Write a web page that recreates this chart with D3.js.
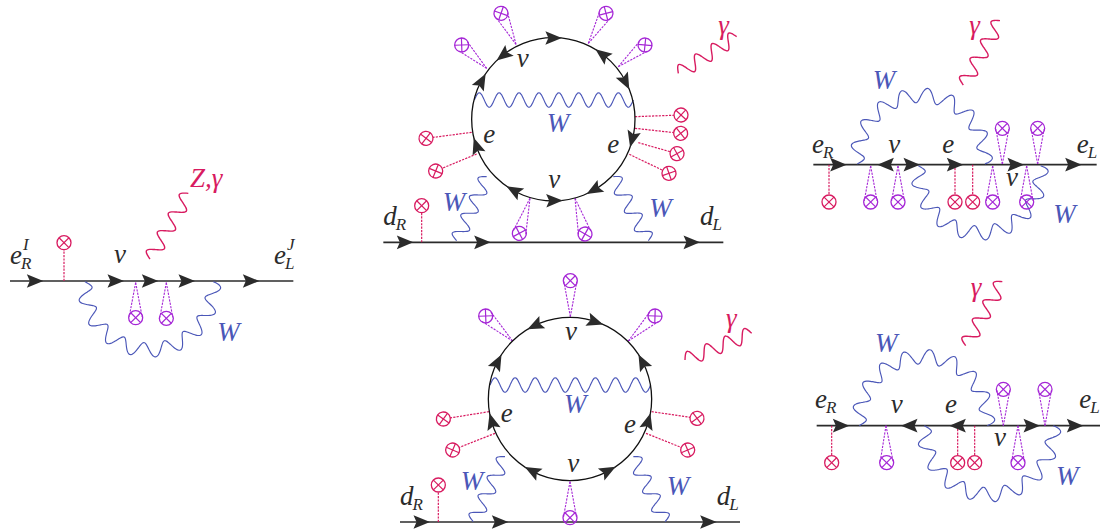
<!DOCTYPE html>
<html><head><meta charset="utf-8">
<style>html,body{margin:0;padding:0;background:#fff}svg{display:block}text{font-family:"Liberation Serif","Times New Roman",serif;font-style:italic}</style>
<script src="https://cdn.jsdelivr.net/npm/d3@7/dist/d3.min.js"></script>
</head><body><svg id="c" width="1100" height="532"></svg>
<script>
const PINK="#d81b60",PURPLE="#a526d6",BLUE="#4b57b8",INK="#2b2b2b";
const aFrame=[0,150],bFrame=[370,0],cFrame=[390,265],dFrame=[800,0],eFrame=[800,265];

// wave rows: x0,y0,x1,y1,sagitta,waves,first-swing sign
const aLine=[[30,880,393]];
const aTips=[[130,1],[372,1],[475,1],[585,1],[778,1]];
const aPink=[[192,278,192,393]];
const aPurple=[[407,503,407,398],[499,505,499,398]];
const aW=[[255,395,640,395,205,9,-1]];
const aPhoton=[[450,327,565,130,0,3.5,-1]];
const aLabels=[["e","R","I",30,342,INK],["ν","","",342,340,INK],["e","L","J",822,342,INK],["W","","",652,572,BLUE],["Z,γ","","",570,110,PINK]];

const bLine=[[40,1060,727]];
const bTips=[[130,1],[362,1],[990,1]];
const bCircle=[550,358,245];
const bArcTips=[[6,1],[31,-1],[68.5,1],[-44,-1],[-56,1],[257,1],[110,1],[215,1],[173.4,-1],[156,1]];
const bPink=[[168,415,305,397],[197,513,320,462],[933,345,795,350],[932,400,795,385],[921,461,805,428],[897,520,778,463],[155,617,155,727]];
const bPurple=[[393,40,438,133],[708,40,655,130],[825,135,745,200],[275,135,350,205],[448,700,480,595],[645,702,615,595]];
const bW=[[313,300,790,300,0,8,-1],[260,722,350,530,0,3.5,-1],[835,722,730,530,0,3.5,1]];
const bPhoton=[[925,220,1100,110,0,3.5,-1]];
const bLabels=[["ν","","",440,200,INK],["W","","",530,395,BLUE],["e","","",340,430,INK],["e","","",712,458,INK],["ν","","",535,563,INK],["W","","",218,632,BLUE],["W","","",838,650,BLUE],["d","R","",40,675,INK],["d","L","",990,675,INK],["γ","","",1045,102,PINK]];

const cLine=[[30,1050,771]];
const cTips=[[120,1],[355,1],[980,1]];
const cCircle=[540,402,245];
const cArcTips=[[-31.4,-1],[24,1],[-57,1],[57,-1],[260,1],[100,-1],[213.6,1],[146,-1]];
const cPink=[[160,462,297,440],[188,555,315,505],[921,460,785,440],[893,555,768,505],[145,660,145,771]];
const cPurple=[[541,47,541,155],[287,153,368,228],[795,153,715,228],[540,758,540,650]];
const cW=[[300,360,782,360,0,8,-1],[250,770,345,575,0,3.5,-1],[825,770,730,575,0,3.5,1]];
const cPhoton=[[885,285,1085,205,0,3.5,-1]];
const cLabels=[["ν","","",525,225,INK],["W","","",522,445,BLUE],["e","","",332,472,INK],["e","","",702,503,INK],["ν","","",532,620,INK],["W","","",212,675,BLUE],["W","","",830,690,BLUE],["d","R","",30,720,INK],["d","L","",980,720,INK],["γ","","",1008,185,PINK]];

const dLine=[[40,890,494]];
const dTips=[[140,1],[232,-1],[360,1],[490,1],[672,1],[845,1]];
const dPink=[[87,606,87,494],[465,606,465,494],[518,606,518,494]];
const dPurple=[[212,606,212,498],[294,606,294,498],[578,606,578,498],[680,606,680,498],[607,385,607,492],[713,385,713,492]];
const dW=[[172,492,555,492,-206,9,1],[355,497,722,497,202,9,-1]];
const dPhoton=[[490,255,600,62,0,3.5,-1]];
const dLabels=[["W","","",218,268,BLUE],["ν","","",265,458,INK],["e","","",427,458,INK],["ν","","",618,558,INK],["W","","",760,668,BLUE],["e","R","",36,458,INK],["e","L","",830,458,INK],["γ","","",508,102,PINK]];

const eLine=[[50,900,482]];
const eTips=[[148,1],[303,-1],[448,-1],[720,1],[850,1]];
const ePink=[[95,593,95,482],[473,593,473,482],[524,593,524,482]];
const ePurple=[[260,593,258,482],[654,593,654,482],[610,373,610,482],[735,373,735,482]];
const eW=[[178,482,562,482,-207,9,1],[373,482,760,482,207,9,-1]];
const ePhoton=[[497,242,607,50,0,3.5,-1]];
const eLabels=[["W","","",225,260,BLUE],["ν","","",272,445,INK],["e","","",435,445,INK],["ν","","",582,543,INK],["W","","",768,660,BLUE],["e","R","",45,430,INK],["e","L","",838,430,INK],["γ","","",512,92,PINK]];

const panels=[
 {frame:aFrame,line:aLine,tips:aTips,pink:aPink,purple:aPurple,waves:aW,photon:aPhoton,labels:aLabels},
 {frame:bFrame,line:bLine,tips:bTips,circle:bCircle,arc:bArcTips,pink:bPink,purple:bPurple,waves:bW,photon:bPhoton,labels:bLabels},
 {frame:cFrame,line:cLine,tips:cTips,circle:cCircle,arc:cArcTips,pink:cPink,purple:cPurple,waves:cW,photon:cPhoton,labels:cLabels},
 {frame:dFrame,line:dLine,tips:dTips,pink:dPink,purple:dPurple,waves:dW,photon:dPhoton,labels:dLabels},
 {frame:eFrame,line:eLine,tips:eTips,pink:ePink,purple:ePurple,waves:eW,photon:ePhoton,labels:eLabels}
];

const svg=d3.select("#c");
const curve=d3.line().curve(d3.curveCatmullRom.alpha(.5));
const arrowShape=d3.line()([[0,0],[-16.5,-6.8],[-13.5,0],[-16.5,6.8]])+"Z";

function wavePts(s,x,y){
  const [x0,y0,x1,y1,sag,n,sign]=s;
  const A=[x(x0),y(y0)],B=[x(x1),y(y1)];
  const chord=Math.hypot(B[0]-A[0],B[1]-A[1]);
  const ux=(B[0]-A[0])/chord,uy=(B[1]-A[1])/chord;
  const S=y(sag)-y(0);
  const amp=7.2*sign;
  const pts=[];
  const N=Math.round(n*24);
  let R=0,theta=0;
  if(Math.abs(S)>.01){R=(chord*chord/4+S*S)/(2*Math.abs(S));theta=2*Math.asin(Math.min(1,chord/(2*R)));if(Math.abs(S)>R)theta=2*Math.PI-theta;}
  for(let i=0;i<=N;i++){
    const t=i/N;
    let bx,by,tx,ty;
    if(R){
      const a=-theta/2+theta*t;
      const along=R*Math.sin(a), off=(R*Math.cos(a)-R*Math.cos(theta/2))*(S>0?1:-1);
      bx=A[0]+chord/2+along; by=A[1]+off;
      tx=Math.cos(a); ty=-Math.sin(a)*(S>0?1:-1);
    }else{bx=A[0]+ux*chord*t;by=A[1]+uy*chord*t;tx=ux;ty=uy;}
    const w=amp*Math.sin(2*Math.PI*n*t);
    pts.push([bx-ty*w,by+tx*w]);
  }
  return pts;
}

function blob(g,c,color,double,x,y){
  const [cx,cy,ax,ay]=c;
  const C=[x(cx),y(cy)],P=[x(ax),y(ay)];
  const r=7;
  const ang=Math.atan2(C[1]-P[1],C[0]-P[0]);
  const dash="2.2 1.2";
  const nx=-Math.sin(ang),ny=Math.cos(ang);
  if(double){
    [-1,1].forEach(k=>g.append("line").attr("x1",P[0]).attr("y1",P[1])
      .attr("x2",C[0]+k*nx*r*.92-Math.cos(ang)*1).attr("y2",C[1]+k*ny*r*.92-Math.sin(ang)*1)
      .attr("stroke",color).attr("stroke-width",1.1).attr("stroke-dasharray",dash));
  }else{
    g.append("line").attr("x1",P[0]).attr("y1",P[1]).attr("x2",C[0]-Math.cos(ang)*r).attr("y2",C[1]-Math.sin(ang)*r)
      .attr("stroke",color).attr("stroke-width",1.2).attr("stroke-dasharray",dash);
  }
  const o=g.append("g").attr("transform",`translate(${C[0]},${C[1]}) rotate(${ang*180/Math.PI+45})`);
  o.append("circle").attr("r",r).attr("fill","none").attr("stroke",color).attr("stroke-width",1.3);
  [[-r,0,r,0],[0,-r,0,r]].forEach(l=>o.append("line").attr("x1",l[0]).attr("y1",l[1]).attr("x2",l[2]).attr("y2",l[3]).attr("stroke",color).attr("stroke-width",1.2));
}

panels.forEach(p=>{
  const x=d3.scaleLinear().domain([0,3]).range([p.frame[0],p.frame[0]+1]);
  const y=d3.scaleLinear().domain([0,3]).range([p.frame[1],p.frame[1]+1]);
  const g=svg.append("g");
  p.line.forEach(l=>g.append("line").attr("x1",x(l[0])).attr("x2",x(l[1])).attr("y1",y(l[2])).attr("y2",y(l[2])).attr("stroke",INK).attr("stroke-width",1.6));
  p.waves.forEach(w=>g.append("path").attr("d",curve(wavePts(w,x,y))).attr("fill","none").attr("stroke",BLUE).attr("stroke-width",1.15));
  p.photon.forEach(w=>g.append("path").attr("d",curve(wavePts(w,x,y))).attr("fill","none").attr("stroke",PINK).attr("stroke-width",1.4));
  p.pink.forEach(c=>blob(g,c,PINK,false,x,y));
  p.purple.forEach(c=>blob(g,c,PURPLE,true,x,y));
  if(p.circle){
    const [cx,cy,cr]=p.circle,R=x(cr)-x(0);
    g.append("circle").attr("cx",x(cx)).attr("cy",y(cy)).attr("r",R).attr("fill","none").attr("stroke","#111").attr("stroke-width",1.3);
    p.arc.forEach(([deg,dir])=>{
      const a=deg*Math.PI/180;
      const tx=x(cx)+R*Math.sin(a),ty=y(cy)-R*Math.cos(a);
      const rot=deg+(dir>0?0:180)-(dir>0?5.6:-5.6);
      g.append("path").attr("d",arrowShape).attr("fill",INK).attr("transform",`translate(${tx},${ty}) rotate(${rot})`);
    });
  }
  p.tips.forEach(([tx,dir])=>g.append("path").attr("d",arrowShape).attr("fill",INK)
    .attr("transform",`translate(${x(tx)},${y(p.line[0][2])}) rotate(${dir>0?0:180})`));
  p.labels.forEach(([t,sub,sup,lx,ly,col])=>{
    const tt=g.append("text").attr("x",x(lx)).attr("y",y(ly)).attr("fill",col).attr("font-size",27).text(t);
    const w=tt.node().getComputedTextLength();
    if(sub)g.append("text").attr("x",x(lx)+w-1).attr("y",y(ly)+5).attr("fill",col).attr("font-size",17).text(sub);
    if(sup)g.append("text").attr("x",x(lx)+w+1).attr("y",y(ly)-14).attr("fill",col).attr("font-size",17).text(sup);
  });
});
</script></body></html>
